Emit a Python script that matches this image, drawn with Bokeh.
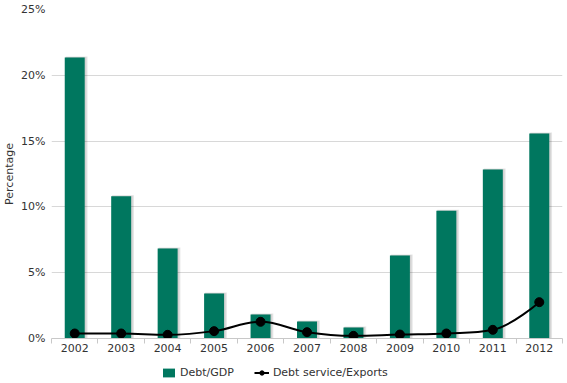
from bokeh.plotting import figure
from bokeh.layouts import column
from bokeh.models import (FixedTicker, PrintfTickFormatter, Legend, LegendItem,
                          ColumnDataSource, Range1d)
from bokeh.embed import file_html
from bokeh.resources import INLINE

years = ["2002", "2003", "2004", "2005", "2006", "2007", "2008", "2009", "2010", "2011", "2012"]
debt_gdp = [21.35, 10.8, 6.84, 3.42, 1.82, 1.29, 0.84, 6.3, 9.7, 12.84, 15.58]
debt_service = [0.38, 0.38, 0.28, 0.56, 1.27, 0.48, 0.2, 0.3, 0.38, 0.66, 2.76]
y_ticks = [0, 5, 10, 15, 20, 25]

FONT = "DejaVu Sans"
BAR = "#00775F"
TXT = "#333333"

xs = list(range(len(years)))

p = figure(width=567, height=360, output_backend="svg", toolbar_location=None,
           x_range=Range1d(-0.5, len(years) - 0.5), y_range=Range1d(0, 25),
           min_border_top=9, min_border_left=0, min_border_right=5,
           min_border_bottom=22,
           background_fill_color="white", border_fill_color="white")
p.outline_line_color = None

# bar shadows + bars
src = ColumnDataSource(dict(x=xs, top=debt_gdp))
p.vbar(x=[x + 0.04 for x in xs], top=[v + 0.08 for v in debt_gdp], width=0.47, bottom=0,
       fill_color="#000000", fill_alpha=0.10, line_color=None)
p.vbar(x=[x + 0.025 for x in xs], top=[v + 0.04 for v in debt_gdp], width=0.45, bottom=0,
       fill_color="#000000", fill_alpha=0.08, line_color=None)
bars = p.vbar(x="x", top="top", width=0.43, bottom=0, source=src,
              fill_color=BAR, line_color=None)

# smooth spline (Highcharts-like) through the points
sm = 1.5
den = sm + 1
n = len(xs)
lc = [None] * n
rc = [None] * n
for i in range(n):
    x, y = xs[i], debt_service[i]
    if 0 < i < n - 1:
        lx, ly = xs[i - 1], debt_service[i - 1]
        nx, ny = xs[i + 1], debt_service[i + 1]
        lcx = (sm * x + lx) / den
        lcy = (sm * y + ly) / den
        rcx = (sm * x + nx) / den
        rcy = (sm * y + ny) / den
        corr = ((rcy - lcy) * (rcx - x)) / (rcx - lcx) + y - rcy
        lcy += corr
        rcy += corr
        if lcy > ly and lcy > y:
            lcy = max(ly, y)
            rcy = 2 * y - lcy
        elif lcy < ly and lcy < y:
            lcy = min(ly, y)
            rcy = 2 * y - lcy
        if rcy > ny and rcy > y:
            rcy = max(ny, y)
            lcy = 2 * y - rcy
        elif rcy < ny and rcy < y:
            rcy = min(ny, y)
            lcy = 2 * y - rcy
        lc[i] = (lcx, lcy)
        rc[i] = (rcx, rcy)
    else:
        lc[i] = (x, y)
        rc[i] = (x, y)

p.bezier(x0=xs[:-1], y0=debt_service[:-1], x1=xs[1:], y1=debt_service[1:],
         cx0=[c[0] for c in rc[:-1]], cy0=[c[1] for c in rc[:-1]],
         cx1=[c[0] for c in lc[1:]], cy1=[c[1] for c in lc[1:]],
         line_color="black", line_width=2)
p.scatter(xs, debt_service, size=9, marker="circle", fill_color="black",
          line_color="black")

# axes
p.xgrid.grid_line_color = None
p.ygrid.grid_line_color = "#D8D8D8"
p.ygrid.grid_line_width = 1

p.xaxis.ticker = FixedTicker(ticks=xs, minor_ticks=[x - 0.5 for x in xs] + [xs[-1] + 0.5])
p.xaxis.major_label_overrides = {i: y for i, y in enumerate(years)}
p.xaxis.major_tick_line_color = None
p.xaxis.major_tick_out = 0
p.xaxis.major_tick_in = 0
p.xaxis.minor_tick_line_color = "#C8C8C8"
p.xaxis.minor_tick_out = 5
p.xaxis.minor_tick_in = 0
p.xaxis.axis_line_color = "#C8C8C8"
p.xaxis.major_label_text_font = FONT
p.xaxis.major_label_text_font_size = "11px"
p.xaxis.major_label_text_color = TXT
p.xaxis.major_label_standoff = 0

p.yaxis.ticker = FixedTicker(ticks=y_ticks)
p.yaxis.formatter = PrintfTickFormatter(format="%d%%")
p.yaxis.axis_line_color = None
p.yaxis.major_tick_line_color = None
p.yaxis.major_tick_out = 0
p.yaxis.major_tick_in = 0
p.yaxis.minor_tick_line_color = None
p.yaxis.major_label_text_font = FONT
p.yaxis.major_label_text_font_size = "11px"
p.yaxis.major_label_text_color = TXT
p.yaxis.major_label_standoff = 6
p.yaxis.axis_label = "Percentage"
p.yaxis.axis_label_text_font = FONT
p.yaxis.axis_label_text_font_size = "11px"
p.yaxis.axis_label_text_font_style = "normal"
p.yaxis.axis_label_text_color = TXT
p.yaxis.axis_label_standoff = 2

# legend strip below the chart
lg = figure(width=567, height=23, output_backend="svg", toolbar_location=None,
            x_range=Range1d(0, 1), y_range=Range1d(0, 1),
            x_axis_location=None, y_axis_location=None,
            min_border=0, background_fill_color="white", border_fill_color="white")
lg.outline_line_color = None
lg.grid.visible = False
r_bar = lg.vbar(x=[-5], top=[-5], width=0.1, fill_color=BAR, line_color=None)
r_line = lg.line(x=[-5, -4], y=[-5, -5], line_color="black", line_width=2)
r_pt = lg.scatter(x=[-5], y=[-5], size=9, marker="circle", fill_color="black",
                  line_color="black")
legend = Legend(items=[LegendItem(label="Debt/GDP", renderers=[r_bar]),
                       LegendItem(label="Debt service/Exports", renderers=[r_line, r_pt])],
                orientation="horizontal", location=(110, 4),
                label_text_font=FONT, label_text_font_size="11px",
                label_text_color=TXT, border_line_color=None,
                background_fill_alpha=0, padding=0, margin=0, spacing=20,
                glyph_width=15, glyph_height=11, label_standoff=4,
                label_height=11)
lg.add_layout(legend)

layout = column(p, lg, spacing=0)
open("out.html", "w").write(file_html(layout, INLINE))
